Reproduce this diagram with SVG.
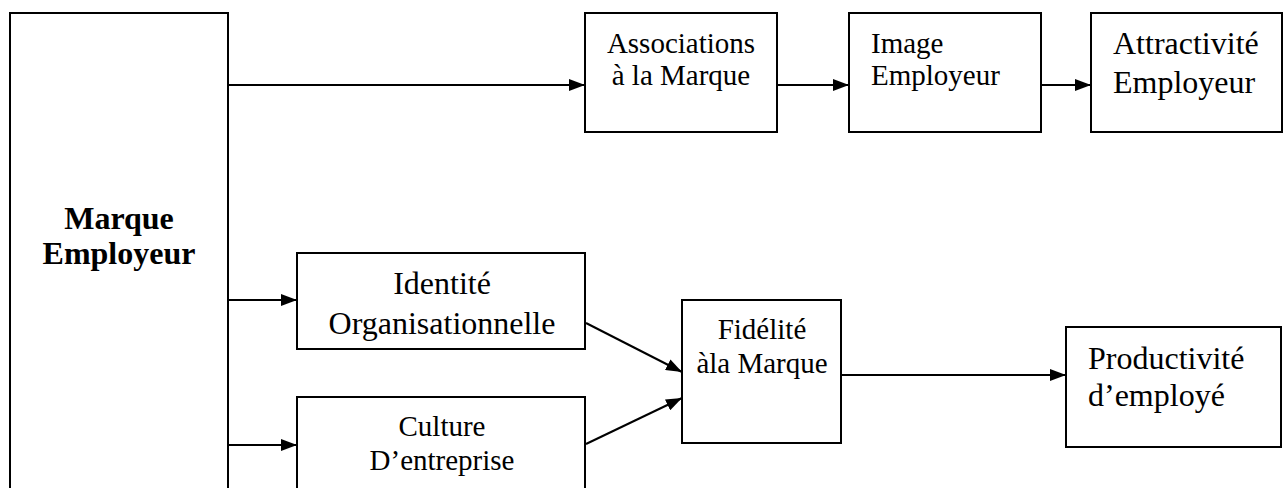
<svg xmlns="http://www.w3.org/2000/svg" width="1287" height="488" viewBox="0 0 1287 488">
<style>
.box{fill:#fff;stroke:#000;stroke-width:2}
.t{font-family:"Liberation Serif","Times New Roman",serif;fill:#000}
.c{text-anchor:middle}
.b{font-weight:bold}
.con{stroke:#000;stroke-width:2;fill:none;marker-end:url(#ah)}
</style>
<defs>
<marker id="ah" viewBox="0 0 16 12" refX="16" refY="6" markerWidth="16" markerHeight="12" markerUnits="userSpaceOnUse" orient="auto">
<path d="M0,0 L16,6 L0,12 Z" fill="#000"/>
</marker>
</defs>
<g id="connectors">
<line class="con" x1="228" y1="85" x2="585" y2="85"/>
<line class="con" x1="777" y1="85" x2="849" y2="85"/>
<line class="con" x1="1041" y1="85" x2="1091" y2="85"/>
<line class="con" x1="228" y1="300" x2="297" y2="300"/>
<line class="con" x1="228" y1="445" x2="297" y2="445"/>
<line class="con" x1="586" y1="323" x2="682" y2="372"/>
<line class="con" x1="586" y1="444" x2="682" y2="398"/>
<line class="con" x1="841" y1="375" x2="1066" y2="375"/>
</g>
<g id="marque">
<rect class="box" x="10" y="13" width="218" height="490"/>
<text class="t c b" x="119" y="229" font-size="32">Marque</text>
<text class="t c b" x="119" y="264" font-size="32">Employeur</text>
</g>
<g id="associations">
<rect class="box" x="585" y="13" width="192" height="119"/>
<text class="t c" x="681" y="53" font-size="29">Associations</text>
<text class="t c" x="681" y="85" font-size="29">à la Marque</text>
</g>
<g id="image">
<rect class="box" x="849" y="13" width="192" height="119"/>
<text class="t" x="871" y="53" font-size="29">Image</text>
<text class="t" x="871" y="85" font-size="29">Employeur</text>
</g>
<g id="attractivite">
<rect class="box" x="1091" y="13" width="191" height="119"/>
<text class="t" x="1113" y="54" font-size="32">Attractivité</text>
<text class="t" x="1113" y="93" font-size="32">Employeur</text>
</g>
<g id="identite">
<rect class="box" x="297" y="253" width="288" height="96"/>
<text class="t c" x="442" y="294" font-size="32">Identité</text>
<text class="t c" x="442" y="334" font-size="32">Organisationnelle</text>
</g>
<g id="culture">
<rect class="box" x="297" y="397" width="288" height="100"/>
<text class="t c" x="442" y="436" font-size="29">Culture</text>
<text class="t c" x="442" y="470" font-size="29">D’entreprise</text>
</g>
<g id="fidelite">
<rect class="box" x="682" y="300" width="159" height="143"/>
<text class="t c" x="762" y="339" font-size="29">Fidélité</text>
<text class="t c" x="762" y="373" font-size="29">àla Marque</text>
</g>
<g id="productivite">
<rect class="box" x="1066" y="327" width="215" height="120"/>
<text class="t" x="1088" y="369" font-size="32">Productivité</text>
<text class="t" x="1088" y="406" font-size="32">d’employé</text>
</g>
</svg>
